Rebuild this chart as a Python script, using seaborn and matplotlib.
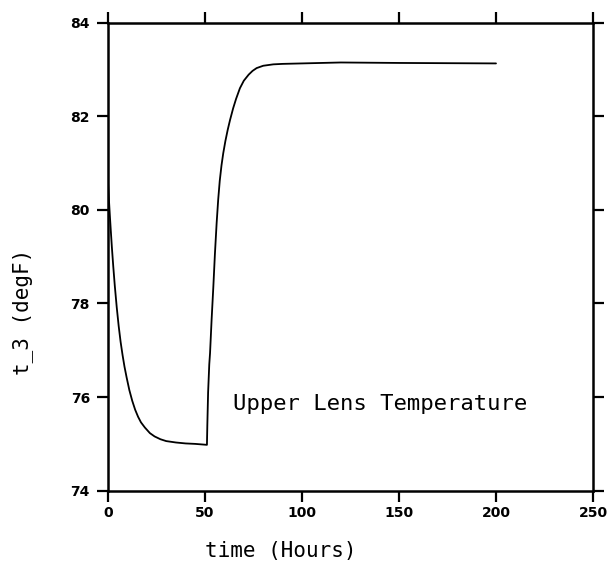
import matplotlib
matplotlib.use("Agg")
import matplotlib.pyplot as plt
import seaborn as sns
import pandas as pd

# Data
time_hours = [0, 0.5, 1, 1.5, 2, 2.7, 3.5, 4.5, 5.5, 6.5, 7.5, 8.5, 9.6, 11, 12.5, 14,
              15.5, 17, 19, 21.6, 24, 27, 30, 35, 40, 45, 51,
              51.2, 51.6, 52.2, 52.6, 53.4, 54.3, 55.1, 56, 56.8, 57.6, 58.5, 59.4,
              60.5, 61.7, 62.9, 64.5, 66, 68, 70, 72.5, 74.5, 76.6, 80, 85.2, 90,
              100, 120, 150, 200]
temp_degF = [80.6, 80.2, 79.85, 79.52, 79.2, 78.8, 78.38, 77.92, 77.52, 77.18, 76.9,
             76.65, 76.42, 76.15, 75.92, 75.73, 75.58, 75.46, 75.35, 75.23, 75.16,
             75.1, 75.06, 75.03, 75.01, 75.0, 74.98,
             75.4, 76.1, 76.7, 76.94, 77.65, 78.36, 79.05, 79.72, 80.22, 80.62, 80.95,
             81.21, 81.47, 81.71, 81.92, 82.17, 82.37, 82.6, 82.76, 82.89, 82.97,
             83.03, 83.08, 83.11, 83.12, 83.13, 83.15, 83.14, 83.13]
x_ticks = [0, 50, 100, 150, 200, 250]
y_ticks = [74, 76, 78, 80, 82, 84]
annotation = "Upper Lens Temperature"
x_label = "time (Hours)"
y_label = "t_3 (degF)"

df = pd.DataFrame({"time": time_hours, "temp": temp_degF})

sns.set_style("ticks")
plt.rcParams["font.family"] = ["DejaVu Sans"]
plt.rcParams["text.color"] = "black"
plt.rcParams["axes.labelcolor"] = "black"
plt.rcParams["xtick.color"] = "black"
plt.rcParams["ytick.color"] = "black"

fig = plt.figure(figsize=(6.09, 5.68), dpi=100)
ax = fig.add_axes([108 / 609, 1 - 490.7 / 568, (593 - 108) / 609, (490.7 - 22.7) / 568])

sns.lineplot(data=df, x="time", y="temp", ax=ax, sort=False, estimator=None,
             color="black", linewidth=1.3)

ax.set_xlim(0, 250)
ax.set_ylim(74, 84)
ax.set_xticks(x_ticks)
ax.set_yticks(y_ticks)
ax.set_xticklabels([str(v) for v in x_ticks], fontsize=10, fontweight="bold", color="black")
ax.set_yticklabels([str(v) for v in y_ticks], fontsize=10, fontweight="bold", color="black")

for s in ax.spines.values():
    s.set_visible(True)
    s.set_linewidth(1.8)
    s.set_color("black")

ax.tick_params(axis="both", which="major", direction="out", length=8, width=1.6,
               color="black", labelcolor="black", top=True, right=True,
               labeltop=False, labelright=False)
ax.tick_params(axis="x", pad=3)
ax.tick_params(axis="y", pad=5)

ax.set_xlabel(x_label, fontsize=15, color="black", family="DejaVu Sans Mono")
ax.set_ylabel(y_label, fontsize=15, color="black", family="DejaVu Sans Mono")
ax.xaxis.set_label_coords(0.357, -0.1075)
ax.yaxis.set_label_coords(-0.155, 0.382)

ax.text(64.4, 75.72, annotation, fontsize=16, ha="left", va="baseline",
        color="black", family="DejaVu Sans Mono")

fig.savefig("out.png", dpi=100, facecolor="white")
